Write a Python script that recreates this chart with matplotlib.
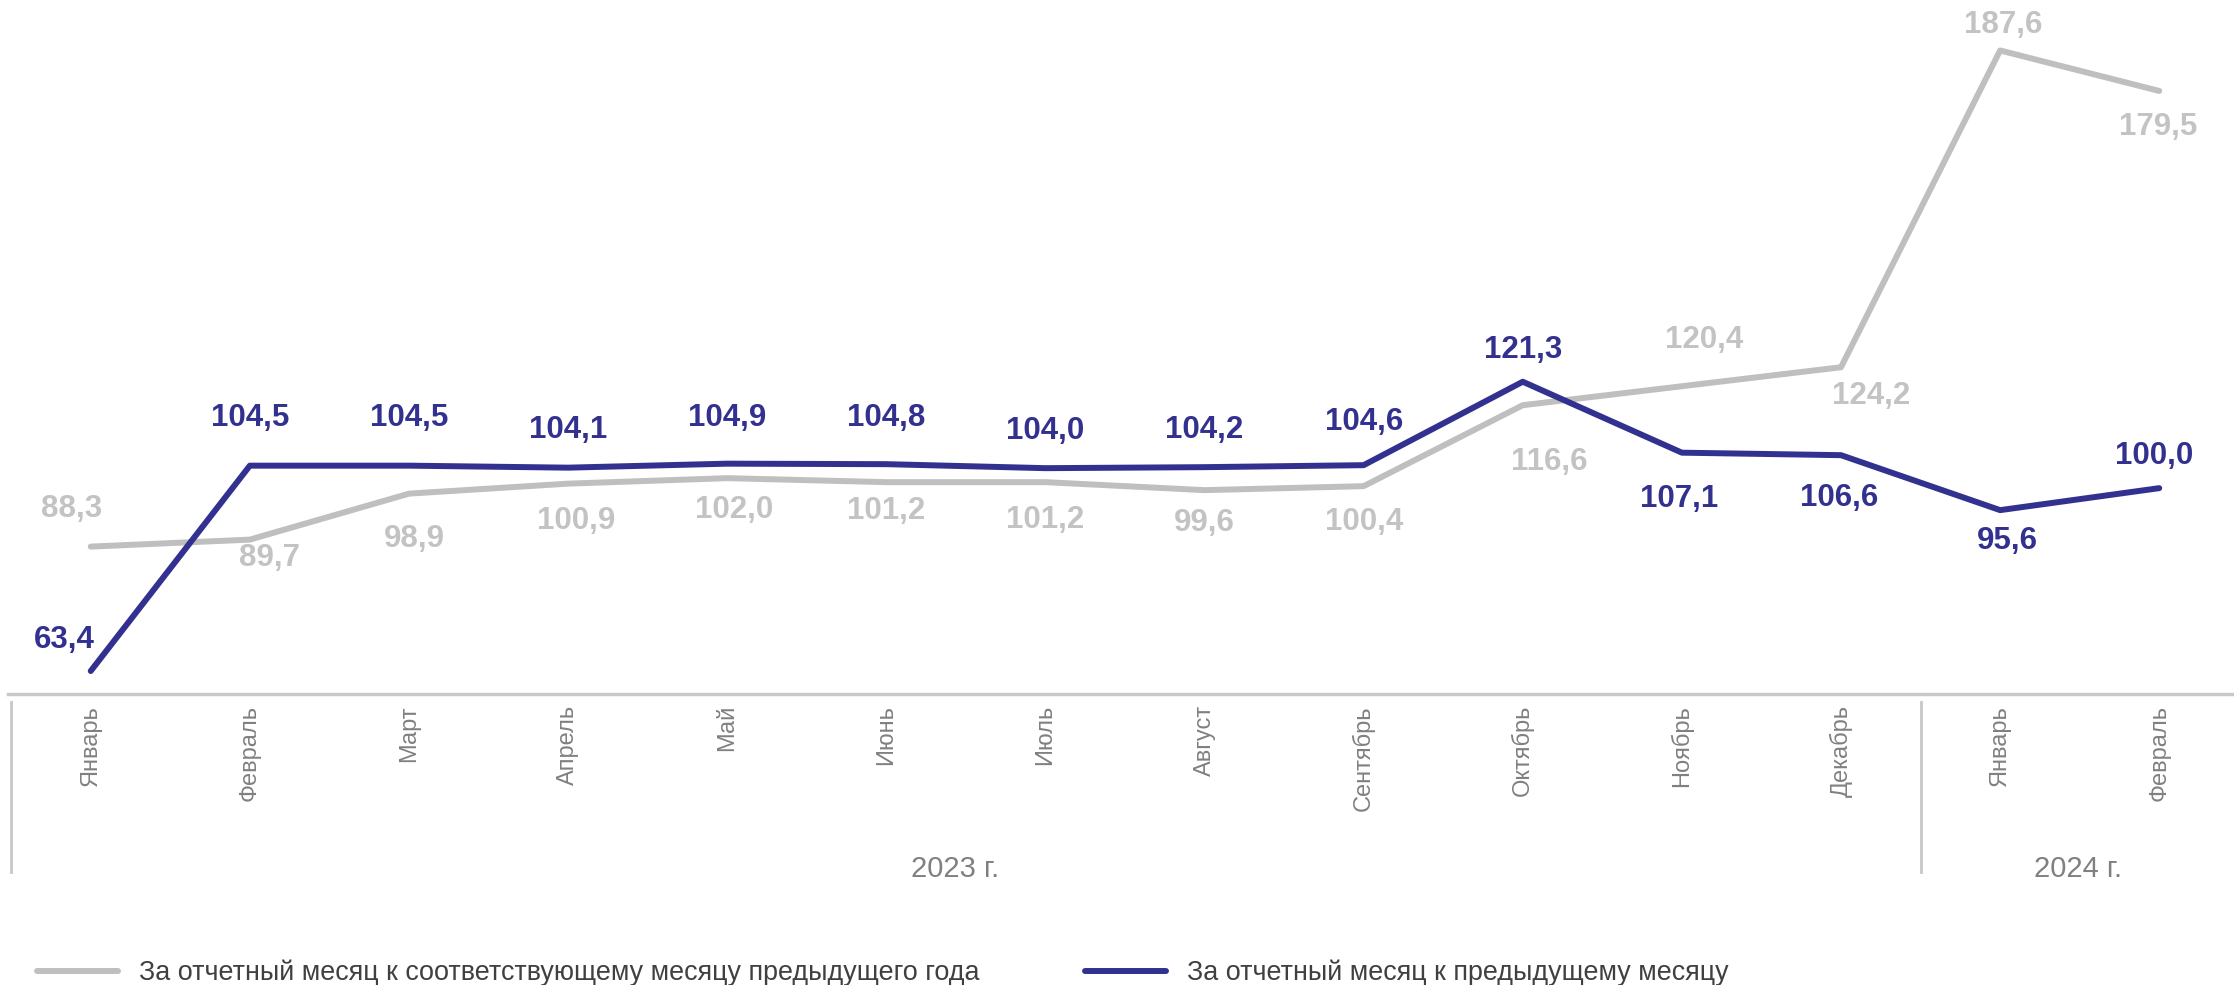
import matplotlib.pyplot as plt
from matplotlib.transforms import blended_transform_factory

plt.rcParams['font.family'] = ['Liberation Sans', 'DejaVu Sans']

months = ['Январь', 'Февраль', 'Март', 'Апрель', 'Май', 'Июнь', 'Июль', 'Август',
          'Сентябрь', 'Октябрь', 'Ноябрь', 'Декабрь', 'Январь', 'Февраль']
years = ['2023 г.', '2024 г.']
yoy = [88.3, 89.7, 98.9, 100.9, 102.0, 101.2, 101.2, 99.6, 100.4, 116.6, 120.4, 124.2, 187.6, 179.5]
mom = [63.4, 104.5, 104.5, 104.1, 104.9, 104.8, 104.0, 104.2, 104.6, 121.3, 107.1, 106.6, 95.6, 100.0]

# label offsets in points (dx, dy)
yoy_off = [(-14, 27), (14, -13), (4, -33), (6, -27), (5, -23), (0, -21), (0, -27), (0, -24),
           (0, -26), (19, -41), (16, 33), (22, -21), (2, 18), (-1, -26)]
mom_off = [(-19, 22), (0, 34), (0, 34), (0, 27), (0, 33), (0, 33), (0, 27), (0, 27),
           (0, 31), (0, 23), (-2, -33), (-1, -31), (5, -22), (-4, 23)]

blue = '#33318F'
grey = '#BFBFBF'

fig = plt.figure(figsize=(22.34, 9.85), dpi=100)
ax = fig.add_axes([8 / 2234, 1 - 694 / 985, 1 - 8 / 2234, 694 / 985])

x = list(range(len(months)))
ax.plot(x, yoy, color=grey, lw=4.3, solid_capstyle='round',
        label='За отчетный месяц к соответствующему месяцу предыдущего года')
ax.plot(x, mom, color=blue, lw=4.3, solid_capstyle='round',
        label='За отчетный месяц к предыдущему месяцу')

for i in x:
    ax.annotate(f'{yoy[i]:.1f}'.replace('.', ','), (i, yoy[i]), xytext=yoy_off[i],
                textcoords='offset points', ha='center', va='center',
                fontsize=22.5, fontweight='bold', color='#C3C3C3')
    ax.annotate(f'{mom[i]:.1f}'.replace('.', ','), (i, mom[i]), xytext=mom_off[i],
                textcoords='offset points', ha='center', va='center',
                fontsize=22.5, fontweight='bold', color=blue)

ax.set_xlim(-0.52, 13.47)
ax.set_ylim(58.8, 197.7)
ax.set_xticks(x)
ax.set_xticklabels(months, rotation=90, fontsize=17, color='#808080', va='top')
ax.tick_params(axis='x', length=0, pad=8)
ax.set_yticks([])
for s in ['top', 'left', 'right']:
    ax.spines[s].set_visible(False)
ax.spines['bottom'].set_color('#C8C8C8')
ax.spines['bottom'].set_linewidth(2.5)

tr = blended_transform_factory(ax.transData, ax.transAxes)
for sx in [-0.5, 11.5]:
    ax.plot([sx, sx], [-0.0115, -0.2565], transform=tr, color='#C8C8C8', lw=2, clip_on=False)
ax.text(5.43, -0.252, years[0], transform=tr, ha='center', va='center', fontsize=21, color='#808080')
ax.text(12.49, -0.252, years[1], transform=tr, ha='center', va='center', fontsize=21, color='#808080')

fig.legend(loc='center left', bbox_to_anchor=(37 / 2234, 12 / 985), ncol=2, frameon=False,
           fontsize=19.4, handlelength=3, handletextpad=0.8, columnspacing=3.9,
           borderpad=0, borderaxespad=0, labelcolor='#404040')

fig.savefig('out.png', dpi=100)
